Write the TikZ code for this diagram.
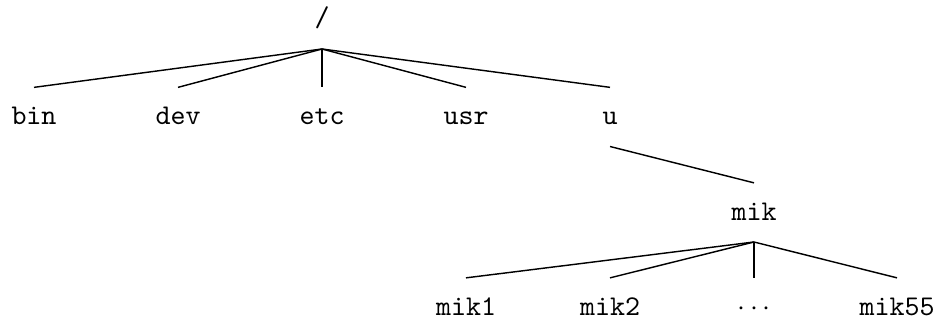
\documentclass[tikz,border=0pt]{standalone}
\begin{document}
\begin{tikzpicture}[x=0.35pt,y=-0.35pt,
  lbl/.style={anchor=base,font=\ttfamily,inner xsep=1pt,inner ysep=6pt,
    text height=6.8pt,text depth=1.5pt},
  edge/.style={line width=0.5pt}]
\useasboundingbox (0,0) rectangle (935,321);
\node[lbl] (root) at (322,27) {/};
\node[lbl] (bin) at (34,124.5) {bin};
\node[lbl] (dev) at (178,124.5) {dev};
\node[lbl] (etc) at (322,124.5) {etc};
\node[lbl] (usr) at (466,124.5) {usr};
\node[lbl] (u) at (610,124.5) {u};
\node[lbl] (mik) at (754,220) {mik};
\node[lbl] (mik1) at (466,315) {mik1};
\node[lbl] (mik2) at (610,315) {mik2};
\node[lbl] (dots) at (754,315) {$\cdots$};
\node[lbl] (mik55) at (897,315) {mik55};
\foreach \c in {bin,dev,etc,usr,u} \draw[edge] (root.south) -- (\c.north);
\draw[edge] (u.south) -- (mik.north);
\foreach \c in {mik1,mik2,dots,mik55} \draw[edge] (mik.south) -- (\c.north);
\end{tikzpicture}
\end{document}
